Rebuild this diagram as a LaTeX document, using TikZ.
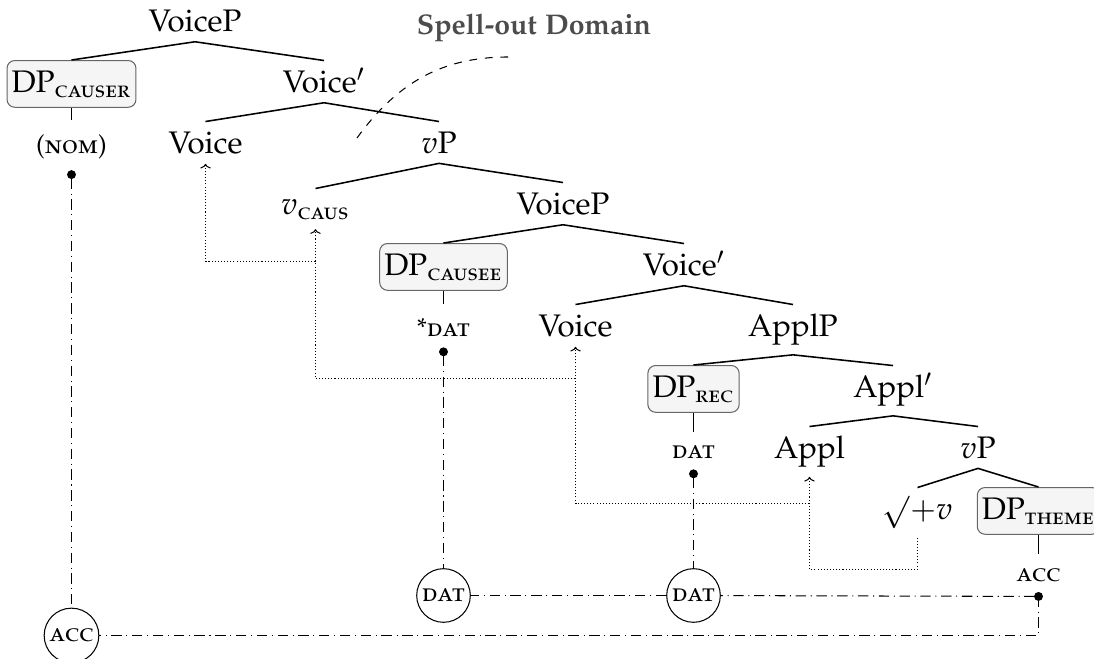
\documentclass[tikz,border=0pt,12pt]{standalone}
\usepackage[T1]{fontenc}
\usepackage[sc]{mathpazo}
\usepackage{amsmath}
\usetikzlibrary{arrows.meta}

\begin{document}
\begin{tikzpicture}[x=0.385pt,y=-0.385pt,
	lbl/.style={anchor=base,text height=9pt,inner ysep=3.3pt,inner xsep=2pt},
	dpbox/.style={lbl,draw=black!60,fill=black!4,rounded corners=3pt,inner xsep=1.8pt,text depth=2pt,inner ysep=3.5pt},
	casetag/.style={anchor=base,font=\footnotesize,inner ysep=5.5pt,inner xsep=1pt},
	casering/.style={draw,circle,font=\footnotesize,inner sep=1.3pt},
	branch/.style={semithick},
	move/.style={dash pattern=on 0.4pt off 0.8pt,-{Computer Modern Rightarrow[width=4pt,length=1.8pt]}},
	agree/.style={dash pattern=on 4pt off 1.8pt on 0.4pt off 1.8pt},
	agreedot/.style={agree,{Circle[length=3.4pt]}-,shorten <=-1.7pt}]
	\useasboundingbox (0,0) rectangle (1094,659);
	% tree
	\node[lbl] (voicep1) at (195,32) {VoiceP};
	\node[dpbox] (dpcauser) at (71.5,93) {DP$_{\textsc{causer}}$};
	\node[lbl] (voicebar1) at (324,93) {Voice$'$};
	\node[casetag] (nom) at (71.5,154) {\textsc{(nom)}};
	\node[lbl] (voice1) at (205.5,154) {Voice};
	\node[lbl] (vp1) at (439,154) {$v$P};
	\node[lbl,text height=6.7pt] (vcaus) at (315.5,215) {$v_{\textsc{caus}}$};
	\node[lbl] (voicep2) at (563,215) {VoiceP};
	\node[dpbox] (dpcausee) at (443.5,276) {DP$_{\textsc{causee}}$};
	\node[lbl] (voicebar2) at (684,276) {Voice$'$};
	\node[casetag] (stardat) at (443.5,337) {*\textsc{dat}};
	\node[lbl] (voice2) at (575.5,337) {Voice};
	\node[lbl] (applp) at (793,337) {ApplP};
	\node[dpbox] (dprec) at (693.5,398) {DP$_{\textsc{rec}}$};
	\node[lbl] (applbar) at (893,398) {Appl$'$};
	\node[casetag] (dat) at (693.5,459) {\textsc{dat}};
	\node[lbl] (appl) at (809.5,459) {Appl};
	\node[lbl] (vp2) at (978,459) {$v$P};
	\node[lbl] (root) at (917.5,520) {$\surd{+}v$};
	\node[dpbox] (dptheme) at (1038.5,520) {DP$_{\textsc{theme}}$};
	\node[casetag] (acc) at (1038.5,581.2) {\textsc{acc}};
	% case circles
	\node[casering] (datc1) at (443.5,595.5) {\textsc{dat}};
	\node[casering] (datc2) at (693.5,595.5) {\textsc{dat}};
	\node[casering] (accc) at (71.5,635.5) {\textsc{acc}};
	% branches
	\draw[branch] (dpcauser.north) -- (voicep1.south) -- (voicebar1.north);
	\draw[branch] (dpcauser.south) -- (nom.north);
	\draw[branch] (voice1.north) -- (voicebar1.south) -- (vp1.north);
	\draw[branch] (vcaus.north) -- (vp1.south) -- (voicep2.north);
	\draw[branch] (dpcausee.north) -- (voicep2.south) -- (voicebar2.north);
	\draw[branch] (dpcausee.south) -- (stardat.north);
	\draw[branch] (voice2.north) -- (voicebar2.south) -- (applp.north);
	\draw[branch] (dprec.north) -- (applp.south) -- (applbar.north);
	\draw[branch] (dprec.south) -- (dat.north);
	\draw[branch] (appl.north) -- (applbar.south) -- (vp2.north);
	\draw[branch] (root.north) -- (vp2.south) -- (dptheme.north);
	\draw[branch] (dptheme.south) -- (acc.north);
	% head movement
	\draw[move] (root.south) -- (root.south |- 0,569.5) -| (appl.south);
	\draw[move] (appl.south |- 0,503.5) -| (voice2.south);
	\draw[move] (voice2.south |- 0,378.5) -| (vcaus.south);
	\draw[move] (vcaus.south |- 0,261.5) -| (voice1.south);
	% case assignment
	\draw[agreedot] (nom.south) -- (accc);
	\draw[agreedot] (stardat.south) -- (datc1);
	\draw[agreedot] (dat.south) -- (datc2);
	\draw[agreedot] (acc.south) -- (datc2);
	\draw[agree] (datc2) -- (datc1);
	\draw[agree] (acc.south) |- (accc);
	% spell-out domain
	\coordinate (spellstart) at (357,138);
	\coordinate (spellend) at (508,57);
	\draw[dashed] (spellstart) to[out=54,in=180] (spellend);
	\node[anchor=base,font=\small\bfseries,text=black!70] (spell) at (534,35) {Spell-out Domain};
\end{tikzpicture}
\end{document}
